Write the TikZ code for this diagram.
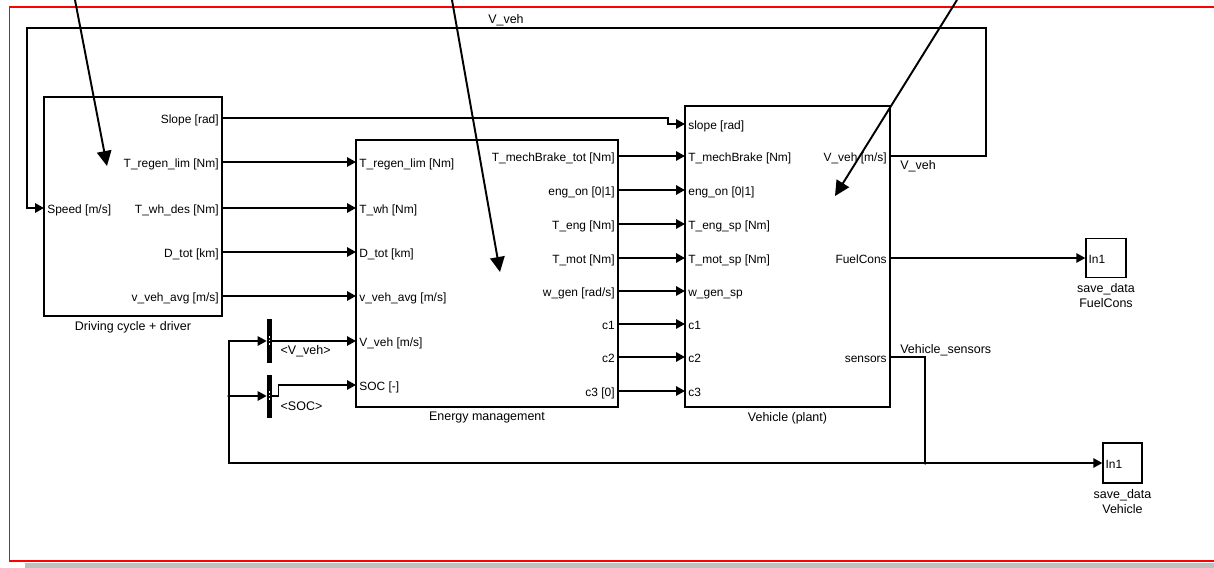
\documentclass[tikz,border=0pt]{standalone}
\usepackage{fontspec}
\setmainfont{Liberation Sans}
\usetikzlibrary{positioning,arrows.meta,calc}

\begin{document}
\begin{tikzpicture}[x=0.02cm, y=-0.02cm,
  blk/.style={rectangle, draw=black, line width=0.8pt, inner sep=0pt},
  selbar/.style={rectangle, fill=black, inner sep=0pt, minimum width=0.1cm},
  port/.style={font=\fontsize{6.8}{8}\selectfont, inner xsep=0.06cm, inner ysep=0pt,
              text height=1.6ex, text depth=0.5ex},
  blkname/.style={font=\fontsize{7.1}{8.6}\selectfont, align=center, inner sep=0pt},
  sig/.style={-{Triangle[length=0.18cm,width=0.19cm]}, line width=0.8pt},
  hint/.style={-{Triangle[length=0.3cm,width=0.29cm]}, line width=1.1pt},
  jdot/.style={circle, fill=black, inner sep=0pt, minimum size=0.07cm}
]
\useasboundingbox (0,0) rectangle (1214,568);

% frame of the model window
\fill[black!25] (25,563) rectangle (1230,570);
\draw[red, line width=1.1pt] (1230,7) -- (9.5,7) -- (9.5,561) -- (1230,561);

% blocks
\node[blk, minimum width=3.56cm, minimum height=4.38cm] (drv) at (133,206.5) {};
\node[blk, minimum width=5.24cm, minimum height=5.34cm] (em)  at (487,273.5) {};
\node[blk, minimum width=4.10cm, minimum height=6.02cm] (veh) at (787.5,256.5) {};
\node[blk, minimum width=0.80cm, minimum height=0.78cm] (sFuel) at (1106,258) {};
\node[blk, minimum width=0.78cm, minimum height=0.80cm] (sVeh)  at (1122.5,463) {};
\node[selbar, minimum height=0.88cm] (selV) at (269.5,341) {};
\node[selbar, minimum height=0.86cm] (selS) at (269.5,396) {};
\draw[white, line width=0.7pt, dash pattern=on 1pt off 1pt] ($(selV.center)+(0,-5)$) -- ($(selV.center)+(0,5)$);
\draw[white, line width=0.7pt, dash pattern=on 1pt off 1pt] ($(selS.center)+(0,-5)$) -- ($(selS.center)+(0,5)$);

\node[blkname, below=0.08cm of drv] {Driving cycle + driver};
\node[blkname, below=0.08cm of em]  {Energy management};
\node[blkname, below=0.08cm of veh] {Vehicle (plant)};
\node[blkname, below=0.1cm of sFuel] {save\_data\\FuelCons};
\node[blkname, below=0.1cm of sVeh]  {save\_data\\Vehicle};
\node[blkname, anchor=north west] at ($(selV.east)+(8,4)$) {<V\_veh>};
\node[blkname, anchor=north west] at ($(selS.east)+(8,5)$) {<SOC>};

% driving cycle ports
\node[port, anchor=west] (dcSpeed) at (44,208) {Speed [m/s]};
\node[port, anchor=east] (dcSlope) at (222,118) {Slope [rad]};
\node[port, anchor=east] (dcTreg)  at (222,162) {T\_regen\_lim [Nm]};
\node[port, anchor=east] (dcTwh)   at (222,208) {T\_wh\_des [Nm]};
\node[port, anchor=east] (dcDtot)  at (222,252) {D\_tot [km]};
\node[port, anchor=east] (dcVavg)  at (222,296) {v\_veh\_avg [m/s]};

% energy management ports
\node[port, anchor=west] (emTreg) at (356,162) {T\_regen\_lim [Nm]};
\node[port, anchor=west] (emTwh)  at (356,208) {T\_wh [Nm]};
\node[port, anchor=west] (emDtot) at (356,252) {D\_tot [km]};
\node[port, anchor=west] (emVavg) at (356,296) {v\_veh\_avg [m/s]};
\node[port, anchor=west] (emVveh) at (356,341) {V\_veh [m/s]};
\node[port, anchor=west] (emSOC)  at (356,385) {SOC [-]};
\node[port, anchor=east] (emBrk)  at (618,156) {T\_mechBrake\_tot [Nm]};
\node[port, anchor=east] (emEng)  at (618,190) {eng\_on [0|1]};
\node[port, anchor=east] (emTeng) at (618,224) {T\_eng [Nm]};
\node[port, anchor=east] (emTmot) at (618,258) {T\_mot [Nm]};
\node[port, anchor=east] (emWgen) at (618,291) {w\_gen [rad/s]};
\node[port, anchor=east] (emC1)   at (618,324) {c1};
\node[port, anchor=east] (emC2)   at (618,357) {c2};
\node[port, anchor=east] (emC3)   at (618,391) {c3 [0]};

% vehicle ports
\node[port, anchor=west] (vhSlope) at (685,124) {slope [rad]};
\node[port, anchor=west] (vhBrk)   at (685,156) {T\_mechBrake [Nm]};
\node[port, anchor=west] (vhEng)   at (685,190) {eng\_on [0|1]};
\node[port, anchor=west] (vhTeng)  at (685,224) {T\_eng\_sp [Nm]};
\node[port, anchor=west] (vhTmot)  at (685,258) {T\_mot\_sp [Nm]};
\node[port, anchor=west] (vhWgen)  at (685,291) {w\_gen\_sp};
\node[port, anchor=west] (vhC1)    at (685,324) {c1};
\node[port, anchor=west] (vhC2)    at (685,357) {c2};
\node[port, anchor=west] (vhC3)    at (685,391) {c3};
\node[port, anchor=east] (vhVveh)  at (890,156) {V\_veh [m/s]};
\node[port, anchor=east] (vhFuel)  at (890,258) {FuelCons};
\node[port, anchor=east] (vhSens)  at (890,357) {sensors};

\node[port, anchor=west] (inFuel) at (sFuel.west) {In1};
\node[port, anchor=west] (inVeh)  at (sVeh.west)  {In1};

% signals
\foreach \p in {Treg,Twh,Dtot,Vavg} \draw[sig] (dc\p.east) -- (em\p.west);
\foreach \p in {Brk,Eng,Teng,Tmot,Wgen,C1,C2,C3} \draw[sig] (em\p.east) -- (vh\p.west);
\draw[sig] (dcSlope.east) -- ++(446,0) |- (vhSlope.west);

\coordinate (fbR) at (986,28);
\coordinate (fbL) at (27,28);
\draw[sig] (vhVveh.east) -| (fbR) -- (fbL) |- (dcSpeed.west);
\node[blkname, anchor=south] at (506,26) {V\_veh};
\node[blkname, anchor=north west] at (900,160) {V\_veh};

\draw[sig] (vhFuel.east) -- (inFuel.west);

\coordinate (jS) at (925,463);
\coordinate (jL) at (229,396);
\draw[sig] (vhSens.east) -| (jS) -- (inVeh.west);
\draw[sig] (jS) -| (jL) -- (selS.west);
\draw[sig] (jL) |- (selV.west);
\node[jdot] at (jS) {};
\node[jdot] at (jL) {};
\node[blkname, anchor=south west] at (900,356) {Vehicle\_sensors};

\draw[sig] (selV.east) -- (emVveh.west);
\draw[sig] (selS.east) -- ++(6,0) |- (emSOC.west);

% pointers
\coordinate (h1s) at (75,0);   \coordinate (h1e) at (107,166);
\coordinate (h2s) at (452,0);  \coordinate (h2e) at (500,272);
\coordinate (h3s) at (957,0);  \coordinate (h3e) at (835,196);
\draw[hint] (h1s) -- (h1e);
\draw[hint] (h2s) -- (h2e);
\draw[hint] (h3s) -- (h3e);

\end{tikzpicture}
\end{document}
